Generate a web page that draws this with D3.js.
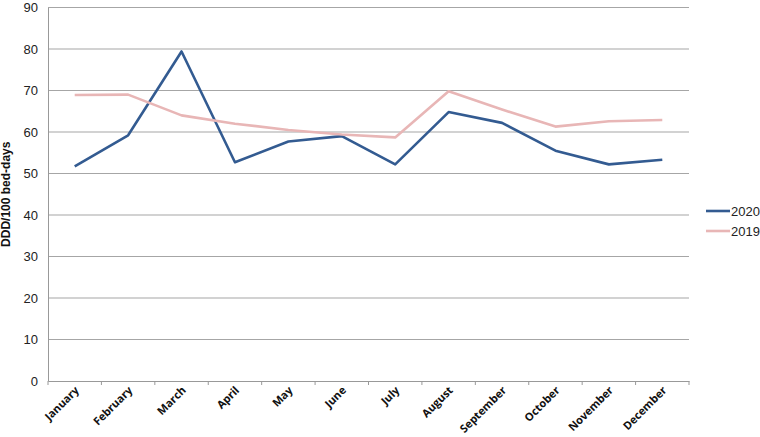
<!DOCTYPE html>
<html>
<head>
<meta charset="utf-8">
<script src="https://cdn.jsdelivr.net/npm/d3@7"></script>
<style>
body { margin: 0; background: #fff; }
svg { font-family: "Liberation Sans", Arial, sans-serif; }
</style>
</head>
<body>
<script>
// chart data
let months = ["January", "February", "March", "April", "May", "June", "July", "August", "September", "October", "November", "December"];
let values2020 = [51.7, 59.2, 79.4, 52.7, 57.7, 59.0, 52.2, 64.8, 62.2, 55.5, 52.2, 53.3];
let values2019 = [68.9, 69.0, 64.0, 62.0, 60.5, 59.4, 58.7, 69.8, 65.4, 61.3, 62.6, 62.9];
let yTicks = [0, 10, 20, 30, 40, 50, 60, 70, 80, 90];
let seriesNames = ["2020", "2019"];
let seriesColors = ["#335b91", "#e8b6b6"];

let w = 760, h = 437;
let margin = {left: 48, right: 71, top: 7.5, bottom: 56};

let svg = d3.select("body").append("svg")
	.attr("width", w)
	.attr("height", h);

//Scales
let x = d3.scaleBand()
	.domain(months)
	.range([margin.left, w - margin.right]);

let y = d3.scaleLinear()
	.domain([0, 90])
	.range([h - margin.bottom, margin.top]);

//Horizontal gridlines
svg.selectAll(".grid")
	.data(yTicks.filter(d => d > 0))
	.enter()
	.append("line")
	.attr("class", "grid")
	.attr("x1", margin.left)
	.attr("x2", w - margin.right)
	.attr("y1", d => y(d))
	.attr("y2", d => y(d))
	.style("stroke", "#a6a6a6")
	.style("stroke-width", 1.2);

//Y axis
let yAxis = svg.append("g")
	.attr("transform", "translate(" + margin.left + ",0)")
	.call(d3.axisLeft(y).tickValues(yTicks).tickSize(0).tickPadding(10));
yAxis.select(".domain").style("stroke", "#999");
yAxis.selectAll("text")
	.style("font-size", "13px")
	.style("fill", "#222");

//X axis
let xAxis = svg.append("g")
	.attr("transform", "translate(0," + y(0) + ")")
	.call(d3.axisBottom(x).tickSize(0).tickFormat(""));
xAxis.select(".domain").style("stroke", "#999");

//Tick marks at band edges
let edges = months.map(m => x(m)).concat([x.range()[1]]);
svg.selectAll(".xtick")
	.data(edges)
	.enter()
	.append("line")
	.attr("x1", d => d)
	.attr("x2", d => d)
	.attr("y1", y(0))
	.attr("y2", y(0) + 4)
	.style("stroke", "#999");

//Month labels
svg.selectAll(".mlabel")
	.data(months)
	.enter()
	.append("text")
	.attr("class", "mlabel")
	.attr("text-anchor", "end")
	.attr("transform", d => "translate(" + (x(d) + x.bandwidth() / 2 + 5) + "," + (y(0) + 10) + ") rotate(-45)")
	.style("font-family", "'Open Sans', sans-serif")
	.style("font-weight", "bold")
	.style("font-size", "11px")
	.style("fill", "#111")
	.text(d => d);

//Y title
svg.append("text")
	.attr("text-anchor", "middle")
	.attr("transform", "translate(10," + ((y(0) + y(90)) / 2) + ") rotate(-90)")
	.style("font-weight", "bold")
	.style("font-size", "12px")
	.style("fill", "#111")
	.text("DDD/100 bed-days");

//Lines
let line = d3.line()
	.x((d, i) => x(months[i]) + x.bandwidth() / 2)
	.y(d => y(d));

[values2020, values2019].forEach(function(vals, i){
	svg.append("path")
		.datum(vals)
		.attr("d", line)
		.style("fill", "none")
		.style("stroke", seriesColors[i])
		.style("stroke-width", 2.6)
		.style("stroke-linejoin", "round");
});

//Legend
let legend = svg.selectAll(".legend")
	.data(seriesNames)
	.enter()
	.append("g")
	.attr("transform", (d, i) => "translate(706," + (211 + i * 20) + ")");
legend.append("line")
	.attr("x1", 0)
	.attr("x2", 24)
	.style("stroke", (d, i) => seriesColors[i])
	.style("stroke-width", 2.6);
legend.append("text")
	.attr("x", 25)
	.attr("dy", "0.35em")
	.style("font-size", "13px")
	.style("fill", "#222")
	.text(d => d);
</script>
</body>
</html>
